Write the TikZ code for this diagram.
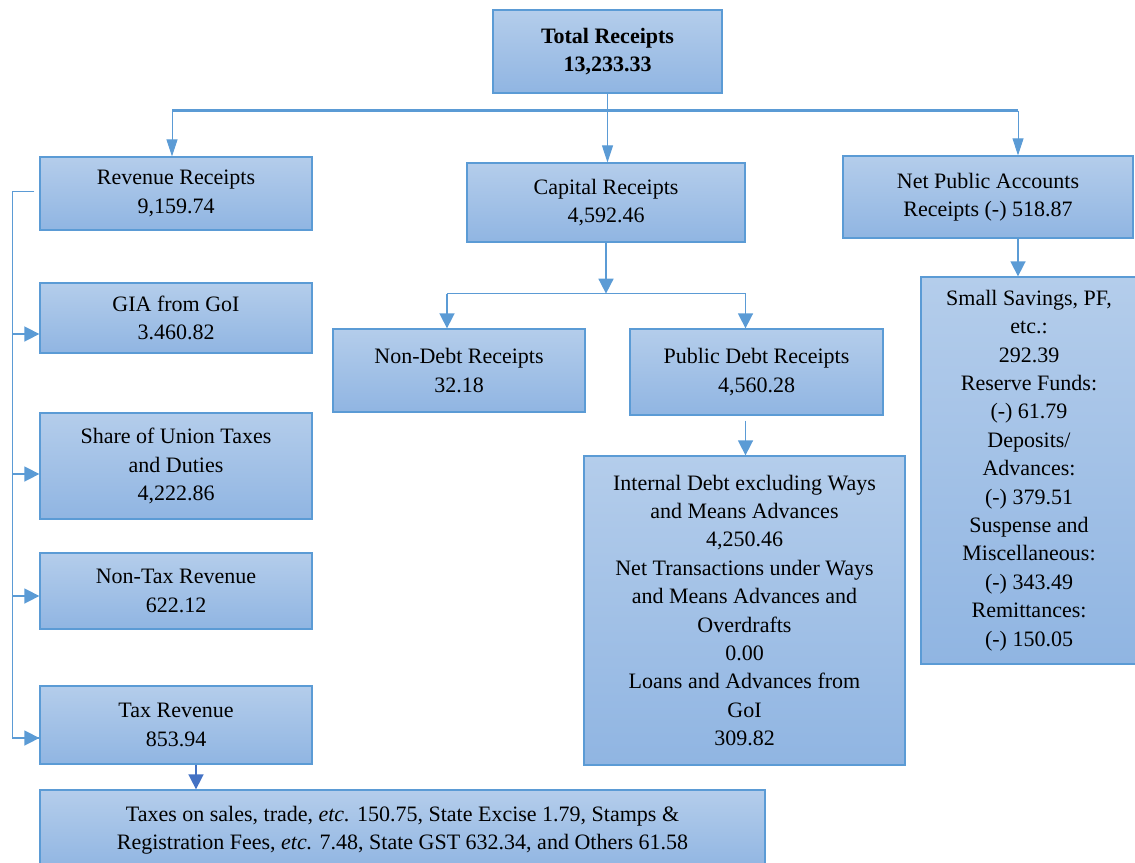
\documentclass[tikz,border=0pt]{standalone}
\usepackage{fontspec}
\setmainfont{Liberation Serif}
\usetikzlibrary{arrows.meta,calc}
\definecolor{bordc}{HTML}{5B9BD5}
\definecolor{filltop}{HTML}{B4CDEB}
\definecolor{fillbot}{HTML}{90B5E2}
\definecolor{darkarr}{HTML}{4472C4}
\tikzset{
  box/.style={draw=bordc, line width=1.3pt, top color=filltop, bottom color=fillbot,
    align=center, inner sep=0pt, font=\fontsize{22}{28.4}\selectfont},
  conn/.style={draw=bordc, line width=1.6pt},
  thinconn/.style={draw=bordc, line width=1pt},
  arr/.style={-{Triangle[width=15pt,length=15pt]}},
  narrowarr/.style={-{Triangle[width=11pt,length=17pt]}},
}
\begin{document}
\begin{tikzpicture}[x=1pt,y=-1pt]
\useasboundingbox (0,0) rectangle (1135,862);
% top level
\node[box, minimum width=229pt, minimum height=83pt] (total) at (607.5,51.5) {\textbf{Total Receipts}\\\textbf{13,233.33}};
\node[box, minimum width=272pt, minimum height=73pt] (rev) at (176,193.5) {Revenue Receipts\\9,159.74};
\node[box, minimum width=278pt, minimum height=79pt] (cap) at (606,202.5) {Capital Receipts\\4,592.46};
\node[box, minimum width=290pt, minimum height=82pt] (npa) at (988,197) {Net Public Accounts\\Receipts (-) 518.87};
% revenue children
\node[box, minimum width=272pt, minimum height=70pt] (gia) at (176,318) {GIA from GoI\\3.460.82};
\node[box, minimum width=272pt, minimum height=106pt] (share) at (176,466) {Share of Union Taxes\\and Duties\\4,222.86};
\node[box, minimum width=272pt, minimum height=76pt] (nontax) at (176,591) {Non-Tax Revenue\\622.12};
\node[box, minimum width=272pt, minimum height=78pt] (tax) at (176,725) {Tax Revenue\\853.94};
\node[box, minimum width=725pt, minimum height=80pt] (taxdet) at (402.5,830) {Taxes on sales, trade, \textit{etc.} 150.75, State Excise 1.79, Stamps \&\\Registration Fees, \textit{etc.} 7.48, State GST 632.34, and Others 61.58};
% capital children
\node[box, minimum width=252pt, minimum height=83pt] (nondebt) at (459,370.5) {Non-Debt Receipts\\32.18};
\node[box, minimum width=253pt, minimum height=86pt] (pdr) at (756.5,372) {Public Debt Receipts\\4,560.28};
\node[box, minimum width=321pt, minimum height=309pt] (internal) at (744.5,610.5) {Internal Debt excluding Ways\\and Means Advances\\4,250.46\\Net Transactions under Ways\\and Means Advances and\\Overdrafts\\0.00\\Loans and Advances from\\GoI\\309.82};
% public accounts children
\node[box, minimum width=216pt, minimum height=387pt] (small) at (1029,470.5) {Small Savings, PF,\\etc.:\\292.39\\Reserve Funds:\\(-) 61.79\\Deposits/\\Advances:\\(-) 379.51\\Suspense and\\Miscellaneous:\\(-) 343.49\\Remittances:\\(-) 150.05};

% top connectors
\coordinate (hy) at ([yshift=-17pt]total.south);
\coordinate (revarr) at ([xshift=-4pt]rev.north);
\coordinate (nparr) at ([xshift=30pt]npa.north);
\draw[conn, line width=2.4pt] (hy -| revarr) -- (hy -| nparr);
\draw[thinconn, narrowarr] (total.south) -- (total.south |- cap.north);
\draw[thinconn, narrowarr] (hy -| revarr) -- (revarr);
\draw[thinconn, narrowarr] (hy -| nparr) -- (nparr);

% capital connectors
\coordinate (cy) at ([yshift=-51pt]cap.south);
\coordinate (ndarr) at ([xshift=-12pt]nondebt.north);
\coordinate (pdarr) at ([xshift=-11pt]pdr.north);
\draw[conn, arr] (cap.south) -- (cy);
\draw[conn] (cy -| ndarr) -- (cy -| pdarr);
\draw[conn, arr] (cy -| ndarr) -- (ndarr);
\draw[conn, arr] (cy -| pdarr) -- (pdarr);

% public debt to internal
\coordinate (pdbot) at ([xshift=-11pt,yshift=-5pt]pdr.south);
\draw[conn, arr] (pdbot) -- (pdbot |- internal.north);

% net public accounts to small savings
\draw[conn, arr] (nparr |- npa.south) -- (nparr |- small.north);

% revenue spine
\coordinate (spine) at ([xshift=-27pt,yshift=2pt]rev.west);
\coordinate (taxin) at ([yshift=-13pt]tax.west);
\draw[conn] ([xshift=-5pt,yshift=2pt]rev.west) -- (spine) -- (spine |- taxin) -- (taxin);
\draw[conn, arr] (spine |- taxin) -- (taxin);
\coordinate (giain) at ([yshift=-16pt]gia.west);
\draw[conn, arr] (spine |- giain) -- (giain);
\coordinate (sharein) at ([yshift=-8pt]share.west);
\draw[conn, arr] (spine |- sharein) -- (sharein);
\coordinate (nontaxin) at ([yshift=-5pt]nontax.west);
\draw[conn, arr] (spine |- nontaxin) -- (nontaxin);

% tax to details
\coordinate (taxarr) at ([xshift=20pt]tax.south);
\draw[draw=darkarr, line width=1.6pt, -{Triangle[width=15pt,length=15pt]}] (taxarr) -- (taxarr |- taxdet.north);
\end{tikzpicture}
\end{document}
